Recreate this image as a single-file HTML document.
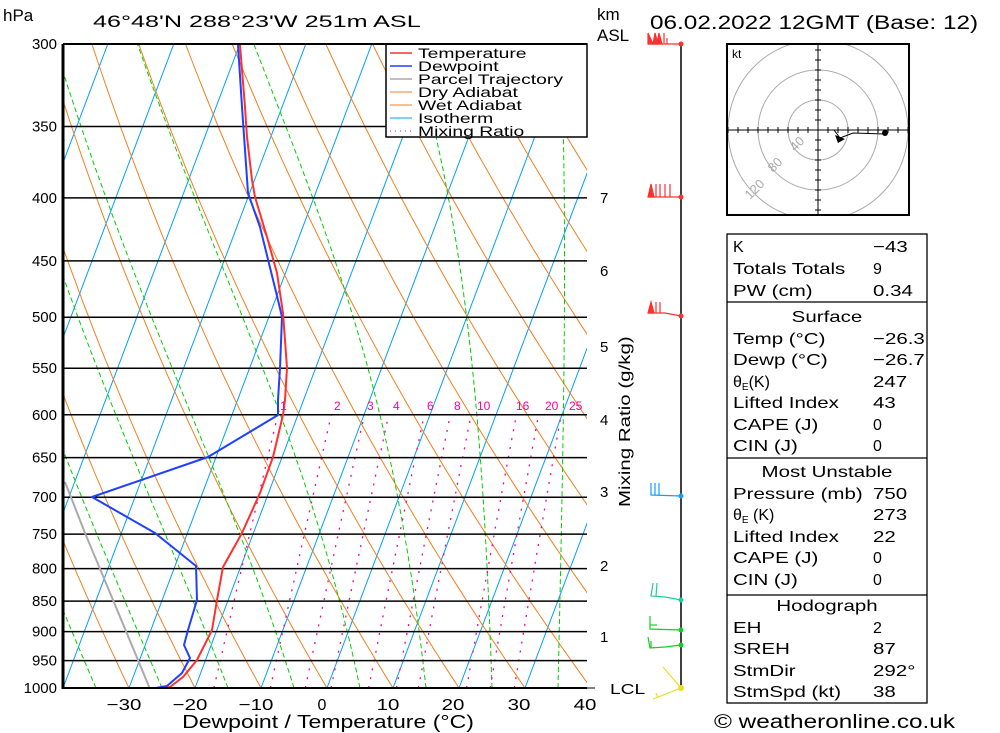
<!DOCTYPE html>
<html><head><meta charset="utf-8"><style>
body{margin:0;background:#fff;width:1000px;height:733px;overflow:hidden}
svg{display:block;font-family:"Liberation Sans","DejaVu Sans",sans-serif}
</style></head><body>
<svg id="s" width="1000" height="733" viewBox="0 0 1000 733" xmlns="http://www.w3.org/2000/svg">
<defs><clipPath id="c"><rect x="63" y="44" width="524" height="644"/></clipPath>
<clipPath id="hc"><rect x="727" y="44" width="182" height="171"/></clipPath></defs>
<rect width="1000" height="733" fill="#fff"/>
<g id="bg" clip-path="url(#c)"></g>
<g id="iso"></g>
<g id="prof" clip-path="url(#c)"></g>
<rect x="386" y="44" width="201" height="93" fill="#fff" stroke="#000" stroke-width="1.5"/>
<g font-size="14" fill="#000">
<line x1="390" y1="53" x2="412" y2="53" stroke="#ff3030" stroke-width="1.5"/><text class="l" x="418" y="58">Temperature</text>
<line x1="390" y1="66" x2="412" y2="66" stroke="#2040ff" stroke-width="1.5"/><text class="l" x="418" y="71">Dewpoint</text>
<line x1="390" y1="79" x2="412" y2="79" stroke="#aaa" stroke-width="1.5"/><text class="l" x="418" y="84">Parcel Trajectory</text>
<line x1="390" y1="92" x2="412" y2="92" stroke="#f08020" stroke-width="1"/><text class="l" x="418" y="97">Dry Adiabat</text>
<line x1="390" y1="105" x2="412" y2="105" stroke="#f08020" stroke-width="1"/><text class="l" x="418" y="110">Wet Adiabat</text>
<line x1="390" y1="118" x2="412" y2="118" stroke="#00a0ff" stroke-width="1"/><text class="l" x="418" y="123">Isotherm</text>
<line x1="390" y1="131" x2="412" y2="131" stroke="#ff00a0" stroke-width="1" stroke-dasharray="1,4"/><text class="l" x="418" y="136">Mixing Ratio</text>
</g>
<line x1="63" y1="44" x2="63" y2="689" stroke="#000" stroke-width="3"/>
<line x1="63" y1="44" x2="587" y2="44" stroke="#000" stroke-width="2"/>
<line x1="63" y1="688" x2="587" y2="688" stroke="#000" stroke-width="2"/>
<g font-size="17" fill="#000">
<text x="3" y="21">hPa</text>
<text class="t" x="93" y="27" font-size="17">46°48'N  288°23'W  251m  ASL</text>
<text x="597" y="20">km</text>
<text x="597" y="41">ASL</text>
<text class="s" x="650" y="29" font-size="19">06.02.2022  12GMT  (Base: 12)</text>
</g>
<g font-size="16" text-anchor="middle">
<text class="s" x="124" y="710">−30</text><text class="s" x="190" y="710">−20</text><text class="s" x="256" y="710">−10</text><text x="322" y="710">0</text>
<text class="s" x="388" y="710">10</text><text class="s" x="453" y="710">20</text><text class="s" x="519" y="710">30</text><text class="s" x="585" y="710">40</text>
<text class="s" x="328" y="728" font-size="18">Dewpoint / Temperature (°C)</text>
</g>
<g font-size="15">
<text x="600" y="203">7</text><text x="600" y="276">6</text><text x="600" y="352">5</text><text x="600" y="425">4</text>
<text x="600" y="497">3</text><text x="600" y="571">2</text><text x="600" y="642">1</text><text class="s" x="610" y="694">LCL</text>
<text class="s" transform="translate(630,507) rotate(-90)" font-size="16">Mixing Ratio (g/kg)</text>
</g>
<g stroke="#000"><line x1="587" y1="688" x2="595" y2="688"/></g>
<g font-size="12" fill="#ff00a0">
<text x="280" y="410">1</text><text x="334" y="410">2</text><text x="367" y="410">3</text><text x="393" y="410">4</text>
<text x="427" y="410">6</text><text x="454" y="410">8</text><text x="477" y="410">10</text><text x="516" y="410">16</text>
<text x="545" y="410">20</text><text x="569" y="410">25</text>
</g>
<line x1="681" y1="44" x2="681" y2="690" stroke="#000" stroke-width="1.5"/>
<g fill="#ff3030" stroke="#ff3030" stroke-width="1.2">
<polyline fill="none" points="648,44 681,44"/><polygon points="648,44 648,33 653,44"/><polygon points="653,44 655,33 658,44"/><polygon points="657,44 659,33 662,44"/>
<line x1="664" y1="44" x2="664" y2="33"/><line x1="667" y1="44" x2="667" y2="38"/><circle cx="681" cy="44" r="2.5" stroke="none"/>
<polyline fill="none" points="648,197 681,197"/><polygon points="648,197 651,184 654,197"/>
<line x1="656" y1="197" x2="656" y2="184"/><line x1="660" y1="197" x2="660" y2="184"/><line x1="665" y1="197" x2="665" y2="184"/><line x1="670" y1="197" x2="670" y2="184"/><circle cx="681" cy="197" r="2.5" stroke="none"/>
<polyline fill="none" points="648,313 665,313 681,316"/><polygon points="648,313 651,302 654,313"/>
<line x1="656" y1="313" x2="656" y2="302"/><line x1="660" y1="313" x2="660" y2="302"/><circle cx="681" cy="316" r="2.5" stroke="none"/>
</g>
<g fill="none" stroke="#10a0ff" stroke-width="1.2">
<polyline points="651,483 651,495 681,496"/><line x1="655" y1="483" x2="655" y2="495"/><line x1="659" y1="483" x2="659" y2="495"/>
<circle cx="681" cy="496" r="2.5" fill="#10a0ff" stroke="none"/></g>
<g fill="none" stroke="#20d090" stroke-width="1.2">
<polyline points="653,583 651,596 665,597 681,600"/><line x1="657" y1="583" x2="656" y2="596"/><circle cx="681" cy="600" r="2.5" fill="#20d090" stroke="none"/></g>
<g fill="none" stroke="#10d020" stroke-width="1.2">
<polyline points="650,616 650,629 681,630"/><line x1="650" y1="625" x2="657" y2="625"/><circle cx="681" cy="630" r="2.5" fill="#10d020" stroke="none"/>
<polyline points="648,637 650,648 665,647 681,645"/><line x1="651" y1="641" x2="651" y2="648"/><circle cx="681" cy="645" r="2.5" fill="#10d020" stroke="none"/></g>
<g stroke="#e8e020" stroke-width="1.2"><line x1="681" y1="688" x2="663" y2="667"/><line x1="681" y1="688" x2="653" y2="699"/><line x1="656" y1="693" x2="658" y2="698"/><circle cx="681" cy="688" r="3" fill="#e8e020" stroke="none"/></g>
<rect x="727" y="44" width="182" height="171" fill="#fff"/>
<g fill="none" stroke="#aaa" stroke-width="1" clip-path="url(#hc)">
<circle cx="818" cy="130" r="30"/><circle cx="818" cy="130" r="60"/><circle cx="818" cy="130" r="90"/></g>
<g id="hod" stroke="#000" stroke-width="1" clip-path="url(#hc)"></g>
<rect x="727" y="44" width="182" height="171" fill="none" stroke="#000" stroke-width="2"/>
<text x="732" y="58" font-size="12">kt</text>
<g font-size="13" fill="#aaa"><text transform="translate(795,152) rotate(-45)">40</text><text transform="translate(773,173) rotate(-45)">80</text><text transform="translate(750,200) rotate(-45)">120</text></g>
<polyline points="818,130 834,130 840,138 853,133 885,134" fill="none" stroke="#000" stroke-width="1"/>
<polygon points="835,135 845,139 838,143" fill="#000"/>
<circle cx="885" cy="133" r="3" fill="#000"/>
<g fill="none" stroke="#000" stroke-width="1.3">
<rect x="727" y="234" width="200" height="469"/>
<line x1="727" y1="302" x2="927" y2="302"/><line x1="727" y1="458" x2="927" y2="458"/><line x1="727" y1="595" x2="927" y2="595"/>
</g>
<g font-size="16" fill="#000">
<text x="733" y="252">K</text><text class="s" x="873" y="252">−43</text>
<text class="s" x="733" y="274">Totals Totals</text><text x="873" y="274">9</text>
<text class="s" x="733" y="296">PW (cm)</text><text class="s" x="873" y="296">0.34</text>
<text class="s" x="827" y="322" text-anchor="middle">Surface</text>
<text class="s" x="733" y="344">Temp (°C)</text><text class="s" x="873" y="344">−26.3</text>
<text class="s" x="733" y="365">Dewp (°C)</text><text class="s" x="873" y="365">−26.7</text>
<text x="733" y="387">θ<tspan font-size="10" dy="3">E</tspan><tspan dy="-3">(K)</tspan></text><text class="s" x="873" y="387">247</text>
<text class="s" x="733" y="408">Lifted Index</text><text class="s" x="873" y="408">43</text>
<text class="s" x="733" y="430">CAPE (J)</text><text x="873" y="430">0</text>
<text class="s" x="733" y="451">CIN (J)</text><text x="873" y="451">0</text>
<text class="s" x="827" y="477" text-anchor="middle">Most Unstable</text>
<text class="s" x="733" y="499">Pressure (mb)</text><text class="s" x="873" y="499">750</text>
<text x="733" y="520">θ<tspan font-size="10" dy="3">E</tspan><tspan dy="-3"> (K)</tspan></text><text class="s" x="873" y="520">273</text>
<text class="s" x="733" y="542">Lifted Index</text><text class="s" x="873" y="542">22</text>
<text class="s" x="733" y="563">CAPE (J)</text><text x="873" y="563">0</text>
<text class="s" x="733" y="585">CIN (J)</text><text x="873" y="585">0</text>
<text class="s" x="827" y="611" text-anchor="middle">Hodograph</text>
<text class="s" x="733" y="633">EH</text><text x="873" y="633">2</text>
<text class="s" x="733" y="654">SREH</text><text class="s" x="873" y="654">87</text>
<text class="s" x="733" y="676">StmDir</text><text class="s" x="873" y="676">292°</text>
<text class="s" x="733" y="697">StmSpd (kt)</text><text class="s" x="873" y="697">38</text>
</g>
<text class="s" x="714" y="728" font-size="19">© weatheronline.co.uk</text>
</svg>
<script>
(function(){
var NS="http://www.w3.org/2000/svg";
function Y(p){return 44+644*Math.log(p/300)/Math.log(1000/300);}
function X(T,p){return 327+6.6*T+0.377*(688-Y(p));}
function el(g,tag,a){var e=document.createElementNS(NS,tag);for(var k in a)e.setAttribute(k,a[k]);g.appendChild(e);return e;}
var bg=document.getElementById('bg');
function pl(pts,a){a.points=pts.map(function(q){return q[0].toFixed(1)+","+q[1].toFixed(1)}).join(" ");a.fill="none";el(bg,'polyline',a);}
for(var T=-160;T<=50;T+=10){pl([[X(T,1000),Y(1000)],[X(T,300),Y(300)]],{stroke:"#00a0ff","stroke-width":1});}
for(var k=-14;k<=14;k++){var th=273.15+10*k,pts=[];for(var p=1000;p>=295;p-=10){var t=th*Math.pow(p/1000,0.2857)-273.15;pts.push([X(t,p),Y(p)]);}pl(pts,{stroke:"#f08020","stroke-width":1});}
function es(t){return 6.112*Math.exp(17.67*t/(t+243.5));}
for(var T0=-35;T0<=65;T0+=10){var t=T0+273.15,pts=[[X(T0,1000),Y(1000)]];for(var p=1000;p>300;p-=2){var e=es(t-273.15),rs=0.622*e/(p-e);var num=(287*t+2.5e6*rs)/p;var den=1004+2.5e6*2.5e6*rs*0.622/(287*t*t);t-=2*num/den;pts.push([X(t-273.15,p-2),Y(p-2)]);}pl(pts,{stroke:"#00d000","stroke-width":1,"stroke-dasharray":"5,3"});}
[1,2,3,4,6,8,10,16,20,25].forEach(function(w){var pts=[];for(var p=1000;p>=600;p-=20){var e=w*p/(622+w),l=Math.log(e/6.112),t=243.5*l/(17.67-l);pts.push([X(t,p),Y(p)]);}pl(pts,{stroke:"#ff00a0","stroke-width":1.3,"stroke-dasharray":"2,7"});});
var iso=document.getElementById('iso');
for(var p=300;p<=1000;p+=50){var y=Y(p);el(iso,'line',{x1:63,y1:y,x2:587,y2:y,stroke:"#000","stroke-width":1.5});var tx=el(iso,'text',{x:57,y:y+5,"font-size":15,"text-anchor":"end"});tx.textContent=p;}
var pr=document.getElementById('prof');
function pp(s,c,w){el(pr,'polyline',{points:s,fill:"none",stroke:c,"stroke-width":w,"stroke-linejoin":"round"});}
pp("65,482 85,533 113,600 138,660 150,689","#aaa",2);
pp("238,45 242,107 248,193 260,227 278,300 282,317 280,368 278,400 278,415 208,457 92,497 155,533 196,566 197,600 188,630 184,645 190,658 182,673 167,686 150,689","#2040ff",2);
pp("240,45 245,107 247,137 252,180 255,197 267,237 277,273 283,313 287,368 285,400 283,415 273,457 260,493 242,533 223,567 217,600 212,630 197,660 183,677 170,687 160,689","#ff3030",2);
var h=document.getElementById('hod');
el(h,'line',{x1:727,y1:130,x2:909,y2:130});el(h,'line',{x1:818,y1:44,x2:818,y2:215});
for(var d=-90;d<=90;d+=10){if(!d)continue;el(h,'line',{x1:818+d,y1:127,x2:818+d,y2:133});el(h,'line',{x1:815,y1:130+d,x2:821,y2:130+d});}
function stretch(cls,f){var a=document.querySelectorAll('text.'+cls);for(var i=0;i<a.length;i++){var L=a[i].getComputedTextLength();if(L>0){a[i].setAttribute('textLength',(L*f).toFixed(1));a[i].setAttribute('lengthAdjust','spacingAndGlyphs');}}}
stretch('s',1.28);stretch('l',1.38);stretch('t',1.48);
})();
</script>
</body></html>
